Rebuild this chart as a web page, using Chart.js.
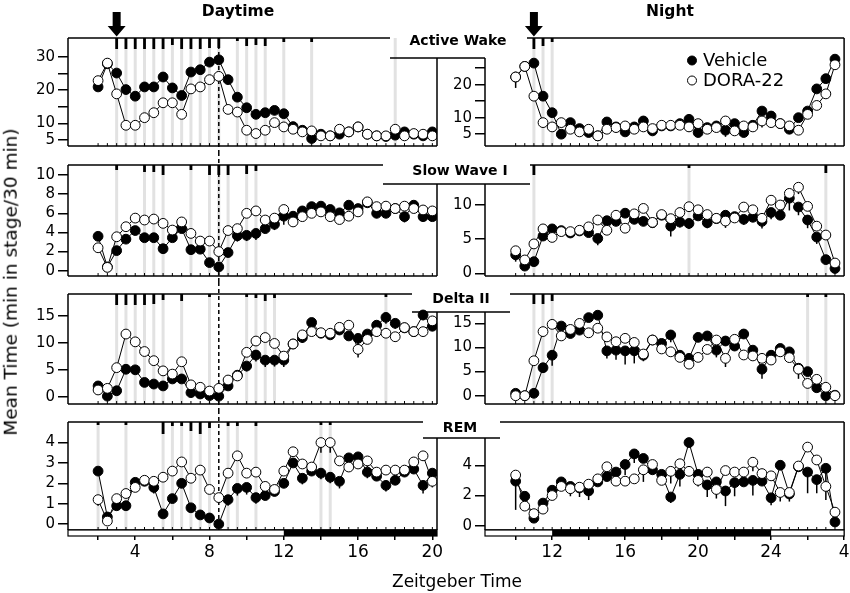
<!DOCTYPE html>
<html>
<head>
<meta charset="utf-8">
<script src="https://cdn.jsdelivr.net/npm/chart.js@4.4.0/dist/chart.umd.min.js"></script>
<style>
  body { margin: 0; background: #fff; }
  #wrap { position: relative; width: 850px; height: 593px; overflow: hidden; font-family: 'DejaVu Sans', sans-serif; color: #000; }
  #wrap canvas { position: absolute; }
  .txt { position: absolute; white-space: nowrap; line-height: 1; }
</style>
</head>
<body>
<div id="wrap"></div>
<script>
// time points (Zeitgeber Time, 30 min bins)
const dayZT = [2, 2.5, 3, 3.5, 4, 4.5, 5, 5.5, 6, 6.5, 7, 7.5, 8, 8.5, 9, 9.5, 10, 10.5, 11, 11.5,
  12, 12.5, 13, 13.5, 14, 14.5, 15, 15.5, 16, 16.5, 17, 17.5, 18, 18.5, 19, 19.5, 20];
const nightZT = [10, 10.5, 11, 11.5, 12, 12.5, 13, 13.5, 14, 14.5, 15, 15.5, 16, 16.5, 17, 17.5, 18, 18.5,
  19, 19.5, 20, 20.5, 21, 21.5, 22, 22.5, 23, 23.5, 24, 24.5, 25, 25.5, 26, 26.5, 27, 27.5];

// Active Wake
const awDayVeh = [21.0, 28.0, 25.2, 20.2, 18.2, 21.0, 21.0, 24.0, 20.7, 18.4, 25.5, 26.2, 28.5, 29.2, 23.2, 17.9, 14.7, 12.7, 13.2, 13.9,
  12.9, 9.0, 7.9, 5.4, 6.7, 6.2, 6.7, 7.4, 8.9, 6.7, 6.2, 6.0, 6.4, 7.4, 6.7, 6.2, 7.4];
const awDayDora = [22.9, 28.2, 18.9, 9.4, 9.4, 11.7, 13.2, 16.2, 16.2, 12.7, 20.4, 21.0, 23.2, 24.2, 14.2, 13.4, 7.9, 6.9, 7.9, 10.2,
  8.9, 8.2, 7.4, 7.7, 6.2, 6.2, 8.2, 7.4, 8.9, 6.7, 6.2, 6.2, 8.2, 6.2, 6.9, 6.7, 6.2];
const awNightVeh = [22.3, 25.5, 26.5, 16.5, 11.5, 5.0, 8.5, 6.7, 5.5, 4.5, 8.7, 7.2, 5.7, 7.2, 9.0, 6.0, 7.5, 7.5, 8.2, 9.5,
  5.5, 7.0, 7.5, 6.2, 8.2, 5.5, 7.7, 12.0, 10.5, 8.2, 6.5, 10.0, 12.0, 18.7, 21.8, 27.7];
const awNightDora = [22.3, 25.5, 16.5, 8.5, 7.2, 8.5, 6.5, 5.7, 6.5, 4.5, 6.5, 7.0, 7.5, 6.5, 7.2, 6.7, 7.7, 7.7, 7.7, 7.2,
  8.2, 6.5, 7.0, 9.0, 6.0, 7.5, 7.2, 9.0, 8.5, 8.2, 7.5, 6.2, 11.0, 13.7, 17.2, 26.0];

// Slow Wave I
const swDayVeh = [3.6, 0.4, 2.1, 3.3, 4.2, 3.45, 3.45, 2.3, 3.45, 4.4, 2.2, 2.25, 0.85, 0.4, 1.9, 3.65, 3.7, 3.9, 4.4, 4.85,
  5.7, 5.7, 6.25, 6.7, 6.75, 6.4, 6.05, 6.85, 6.5, 7.1, 6.0, 6.0, 6.5, 5.65, 6.85, 5.65, 5.65];
const swDayDora = [2.4, 0.35, 3.55, 4.6, 5.5, 5.3, 5.4, 4.95, 4.25, 5.1, 3.9, 3.1, 3.1, 2.0, 4.2, 4.4, 6.0, 6.25, 5.3, 5.5,
  6.4, 5.1, 5.65, 6.0, 6.15, 5.65, 5.35, 5.7, 6.15, 7.2, 6.7, 6.75, 6.5, 6.75, 6.5, 6.35, 6.25];
const swNightVeh = [2.7, 1.05, 1.7, 5.45, 6.5, 6.25, 5.9, 6.2, 5.95, 5.1, 7.7, 7.6, 8.8, 7.9, 7.6, 7.4, 8.5, 6.9, 7.5, 7.3,
  8.4, 7.4, 8.0, 8.5, 8.3, 7.9, 8.2, 7.6, 8.9, 8.5, 11.0, 9.7, 7.8, 5.3, 2.0, 0.7];
const swNightDora = [3.3, 1.95, 4.3, 6.5, 5.25, 6.1, 6.1, 6.3, 6.8, 7.8, 6.3, 8.5, 6.6, 8.7, 9.5, 7.45, 8.6, 8.0, 8.9, 9.75,
  9.3, 8.6, 8.05, 7.65, 8.1, 9.7, 9.3, 8.05, 10.7, 10.0, 11.7, 12.6, 9.8, 6.9, 5.6, 1.5];

// Delta II
const dlDayVeh = [2.0, 0.1, 1.1, 5.1, 5.0, 2.65, 2.35, 2.0, 3.3, 3.3, 0.75, 0.5, 0.2, 0.1, 2.0, 4.0, 5.7, 7.75, 6.8, 6.8,
  6.8, 9.8, 11.0, 13.8, 11.8, 11.5, 12.4, 11.3, 10.85, 11.65, 13.3, 14.75, 13.65, 12.8, 12.1, 15.2, 13.1];
const dlDayDora = [1.25, 1.55, 5.4, 11.65, 10.2, 8.4, 6.7, 4.8, 4.2, 6.5, 2.2, 1.75, 1.05, 1.55, 3.1, 3.85, 8.25, 10.35, 11.0, 9.9,
  7.55, 9.8, 11.5, 12.1, 11.9, 11.8, 12.9, 13.3, 8.8, 10.65, 12.1, 11.8, 11.15, 12.85, 12.1, 12.1, 14.1];
const dlNightVeh = [0.5, 0.0, 0.5, 5.8, 8.4, 14.45, 12.9, 13.6, 16.2, 16.7, 9.3, 9.45, 9.3, 9.3, 8.4, 11.55, 10.85, 12.6, 8.4, 7.75,
  12.1, 12.4, 9.45, 11.35, 10.3, 12.8, 9.45, 5.5, 8.4, 9.8, 9.1, 5.7, 5.0, 1.65, 0.0, 0.1];
const dlNightDora = [0.0, 0.0, 7.25, 13.3, 14.8, 12.4, 13.75, 15.0, 13.05, 14.0, 12.2, 11.2, 11.9, 11.05, 8.65, 11.55, 9.7, 9.1, 7.95, 6.55,
  7.95, 9.6, 11.55, 7.75, 11.7, 8.45, 8.25, 7.75, 7.4, 9.1, 7.9, 5.5, 2.55, 3.4, 1.75, 0.0];

// REM
const remDayVeh = [2.6, 0.35, 0.9, 0.9, 2.05, 2.1, 1.8, 0.5, 1.25, 2.0, 0.8, 0.45, 0.3, 0.0, 1.2, 1.75, 1.8, 1.3, 1.4, 1.6,
  2.0, 3.0, 2.25, 2.6, 2.5, 2.3, 2.1, 3.25, 3.3, 2.55, 2.35, 1.9, 2.15, 2.55, 2.7, 1.9, 2.5];
const remDayDora = [1.2, 0.15, 1.25, 1.5, 1.8, 2.15, 2.1, 2.3, 2.6, 3.05, 2.25, 2.65, 1.7, 1.3, 2.5, 3.35, 2.5, 2.55, 1.85, 1.7,
  2.6, 3.55, 2.95, 2.8, 4.0, 4.0, 3.1, 2.8, 2.95, 3.1, 2.55, 2.65, 2.65, 2.65, 3.05, 3.35, 2.1];
const remNightVeh = [2.95, 1.95, 0.5, 1.5, 2.35, 2.9, 2.6, 2.5, 2.3, 2.9, 3.25, 3.55, 4.05, 4.75, 4.45, 3.7, 3.4, 1.9, 3.4, 5.5,
  3.4, 2.7, 2.9, 2.3, 2.85, 2.9, 3.0, 2.95, 1.85, 4.0, 2.1, 3.9, 3.55, 3.05, 3.8, 0.25];
const remNightDora = [3.35, 1.3, 0.8, 1.1, 2.0, 2.6, 2.45, 2.55, 2.75, 3.1, 3.9, 2.95, 2.95, 3.1, 3.7, 4.05, 3.0, 3.6, 4.1, 3.6,
  3.0, 3.55, 2.4, 3.65, 3.55, 3.55, 4.2, 3.45, 3.3, 2.2, 2.2, 3.95, 5.2, 4.35, 2.6, 0.9];

// error bars (SEM, drawn downward): [bin index, length]
const awNightVehErr = [[14, 1.2], [23, 2.0], [26, 1.5]];
const awNightDoraErr = [[0, 3.3], [19, 1.5], [27, 2.0]];
const swDayVehErr = [[7, 0.5], [11, 0.4], [15, 0.6], [16, 0.6], [17, 0.7], [19, 0.6], [20, 0.9], [29, 0.4], [30, 0.5], [31, 0.5], [33, 0.6], [35, 0.5]];
const swDayDoraErr = [[19, 0.3], [22, 0.4]];
const swNightVehErr = [[0, 1.0], [9, 1.0], [10, 0.6], [12, 0.6], [17, 1.5], [18, 0.8], [19, 0.8], [21, 0.8], [25, 0.8], [28, 1.0], [30, 1.8], [31, 1.2], [32, 1.2], [33, 1.0]];
const swNightDoraErr = [[15, 0.8], [23, 1.0], [27, 1.5], [29, 0.8], [31, 1.0]];
const dlDayVehErr = [[16, 1.0], [17, 1.2], [18, 1.3], [19, 1.2], [20, 1.3], [22, 1.0], [28, 1.3], [30, 1.0], [31, 1.2], [32, 1.0], [35, 1.0]];
const dlDayDoraErr = [[22, 1.2], [24, 0.8], [28, 1.5], [30, 1.0], [32, 1.0]];
const dlNightVehErr = [[3, 1.0], [4, 2.2], [10, 1.6], [11, 2.0], [12, 2.8], [13, 2.6], [16, 1.2], [17, 1.5], [22, 1.5], [26, 1.5], [27, 2.0], [28, 1.2], [30, 1.2]];
const dlNightDoraErr = [[14, 1.5], [22, 0.8], [23, 1.8], [31, 2.0], [32, 1.0]];
const remDayVehErr = [[4, 0.3], [6, 0.3], [14, 0.3], [15, 0.35], [16, 0.35], [17, 0.3], [22, 0.3], [24, 0.3], [25, 0.3], [26, 0.35], [29, 0.3], [31, 0.3], [35, 0.4]];
const remDayDoraErr = [[0, 0.3], [24, 0.5], [25, 0.5], [29, 0.3], [36, 0.3]];
const remNightVehErr = [[0, 1.9], [1, 0.6], [7, 0.6], [8, 0.6], [12, 0.7], [13, 0.6], [17, 0.4], [18, 0.8], [20, 0.8], [21, 0.8], [22, 0.6], [23, 1.0], [24, 0.9], [26, 1.0], [28, 0.5], [32, 1.4], [33, 0.9], [34, 2.1]];
const remNightDoraErr = [[6, 0.5], [14, 0.8], [17, 0.8], [22, 0.6], [25, 0.6], [26, 0.6], [29, 0.6], [30, 0.6]];

// significant bins: [bin index, mark length]
const awDaySig = [[2, 11], [3, 11], [4, 11], [5, 11], [6, 11], [7, 11], [8, 7], [9, 11], [10, 11], [11, 11], [12, 10], [13, 10], [15, 3], [16, 8], [17, 7], [18, 8], [20, 4], [23, 4]];
const awNightSig = [[2, 11], [3, 8], [4, 4]];
const swDaySig = [[2, 5], [5, 7], [6, 7], [7, 10], [10, 5], [12, 10], [13, 10], [14, 10], [16, 9], [17, 6]];
const swNightSig = [[2, 10], [19, 3], [34, 8]];
const dlDaySig = [[2, 11], [3, 11], [4, 11], [5, 11], [6, 10], [7, 6], [9, 7], [12, 3], [16, 3], [17, 4], [18, 7], [19, 4], [31, 3]];
const dlNightSig = [[2, 10], [3, 10], [4, 7], [32, 3], [34, 3]];
const remDaySig = [[0, 3], [3, 3], [7, 12], [8, 4], [9, 4], [10, 9], [11, 12], [12, 6], [14, 4], [15, 4], [17, 4], [24, 3], [25, 3]];
const remNightSig = [];
const awDayGreyOnly = [32];

// axis ticks
const awDayTicks = [5, 10, 15, 20, 25, 30], awDayLabels = [5, 10, 20, 30];
const awNightTicks = [5, 10, 15, 20, 25], awNightLabels = [5, 10, 20];
const swDayTicks = [0, 2, 4, 6, 8, 10];
const swNightTicks = [0, 5, 10];
const dlTicks = [0, 5, 10, 15];
const remDayTicks = [0, 1, 2, 3, 4];
const remNightTicks = [0, 2, 4];
const dayXTicks = [2, 4, 6, 8, 10, 12, 14, 16, 18, 20];
const dayXLabels = { 4: '4', 8: '8', 12: '12', 16: '16', 20: '20' };
const nightXTicks = [10, 12, 14, 16, 18, 20, 22, 24, 26, 28];
const nightXLabels = { 12: '12', 16: '16', 20: '20', 24: '24', 28: '4' };

const doseDay = 3, doseNight = 11;   // arrows
const dashZT = 8.5;                  // dashed line
const darkDay = [[12, 20.25]], darkNight = [[12, 24]];

// page geometry
const COLS = {
  L: { left: 0, width: 447, xMin: 0.38, xMax: 20.25, yWidth: 68, padRight: 10 },
  R: { left: 447, width: 403, xMin: 8.32, xMax: 28, yWidth: 38, padRight: 5 }
};
const ROWS = [
  { top: 0, height: 152, areaTop: 38, areaBottom: 147, notchY: 58, leftTopEnd: 390, rightTopStart: 527, notchEnd: 485 },
  { top: 152, height: 130, areaTop: 165, areaBottom: 276, notchY: 184, leftTopEnd: 383, rightTopStart: 530, notchEnd: 530 },
  { top: 282, height: 128, areaTop: 294, areaBottom: 404, notchY: 312, leftTopEnd: 412, rightTopStart: 510, notchEnd: 510 },
  { top: 410, height: 183, areaTop: 422, areaBottom: 530, notchY: 438, leftTopEnd: 423, rightTopStart: 500, notchEnd: 500 }
];

const panels = [
  { side: 'L', row: 0, zt: dayZT, veh: awDayVeh, dora: awDayDora, vehErr: [], doraErr: [], sig: awDaySig, grey: awDayGreyOnly, yMin: 3.1, yMax: 35.8, yTicks: awDayTicks, yLabels: awDayLabels, dose: doseDay },
  { side: 'R', row: 0, zt: nightZT, veh: awNightVeh, dora: awNightDora, vehErr: awNightVehErr, doraErr: awNightDoraErr, sig: awNightSig, yMin: 1.4, yMax: 34.1, yTicks: awNightTicks, yLabels: awNightLabels, dose: doseNight, legend: true },
  { side: 'L', row: 1, zt: dayZT, veh: swDayVeh, dora: swDayDora, vehErr: swDayVehErr, doraErr: swDayDoraErr, sig: swDaySig, yMin: -0.55, yMax: 11.05, yTicks: swDayTicks, yLabels: swDayTicks },
  { side: 'R', row: 1, zt: nightZT, veh: swNightVeh, dora: swNightDora, vehErr: swNightVehErr, doraErr: swNightDoraErr, sig: swNightSig, yMin: -0.4, yMax: 15.86, yTicks: swNightTicks, yLabels: swNightTicks },
  { side: 'L', row: 2, zt: dayZT, veh: dlDayVeh, dora: dlDayDora, vehErr: dlDayVehErr, doraErr: dlDayDoraErr, sig: dlDaySig, yMin: -1.36, yMax: 19.1, yTicks: dlTicks, yLabels: dlTicks },
  { side: 'R', row: 2, zt: nightZT, veh: dlNightVeh, dora: dlNightDora, vehErr: dlNightVehErr, doraErr: dlNightDoraErr, sig: dlNightSig, yMin: -1.72, yMax: 21.1, yTicks: dlTicks, yLabels: dlTicks },
  { side: 'L', row: 3, zt: dayZT, veh: remDayVeh, dora: remDayDora, vehErr: remDayVehErr, doraErr: remDayDoraErr, sig: remDaySig, yMin: -0.29, yMax: 5.01, yTicks: remDayTicks, yLabels: remDayTicks, xTicks: dayXTicks, xLabels: dayXLabels, dark: darkDay },
  { side: 'R', row: 3, zt: nightZT, veh: remNightVeh, dora: remNightDora, vehErr: remNightVehErr, doraErr: remNightDoraErr, sig: remNightSig, yMin: -0.28, yMax: 6.86, yTicks: remNightTicks, yLabels: remNightTicks, xTicks: nightXTicks, xLabels: nightXLabels, dark: darkNight }
];

const FONT = 'DejaVu Sans';
const wrap = document.getElementById('wrap');

function seg(ctx, x1, y1, x2, y2) {
  ctx.beginPath(); ctx.moveTo(x1, y1); ctx.lineTo(x2, y2); ctx.stroke();
}

//draws everything the figure has around the curves: frames, shading, marks, error bars
function decoPlugin(p) {
  const col = COLS[p.side], row = ROWS[p.row];
  const X = v => v - col.left, Y = v => v - row.top;
  return {
    id: 'deco',
    beforeDatasetsDraw(chart) {
      const ctx = chart.ctx, a = chart.chartArea, xs = chart.scales.x, ys = chart.scales.y;
      ctx.save();
      ctx.strokeStyle = '#e2e2e2'; ctx.lineWidth = 3;
      p.sig.map(s => s[0]).concat(p.grey || []).forEach(i => {
        const px = xs.getPixelForValue(p.zt[i]);
        seg(ctx, px, a.top, px, a.bottom);
      });
      if (p.side === 'L') {
        const px = xs.getPixelForValue(dashZT);
        ctx.strokeStyle = '#000'; ctx.lineWidth = 1.5; ctx.setLineDash([4, 3]);
        seg(ctx, px, p.row === 0 ? a.top : 0, px, p.row === 3 ? a.bottom : chart.height);
        ctx.setLineDash([]);
      }
      ctx.strokeStyle = '#000'; ctx.lineWidth = 1.5;
      [[p.veh, p.vehErr], [p.dora, p.doraErr]].forEach(([vals, errs]) => errs.forEach(([i, e]) => {
        const px = xs.getPixelForValue(p.zt[i]);
        seg(ctx, px, ys.getPixelForValue(vals[i]), px, ys.getPixelForValue(vals[i] - e));
      }));
      ctx.restore();
    },
    afterDraw(chart) {
      const ctx = chart.ctx, a = chart.chartArea, xs = chart.scales.x;
      ctx.save();
      ctx.strokeStyle = '#000'; ctx.fillStyle = '#000'; ctx.lineWidth = 1.5;
      //frame with the notch for the stage name
      if (p.side === 'L') {
        seg(ctx, a.left, a.top, a.left, a.bottom);
        seg(ctx, a.left, a.top, X(row.leftTopEnd), a.top);
        seg(ctx, X(row.leftTopEnd), Y(row.notchY), chart.width, Y(row.notchY));
        seg(ctx, a.right, Y(row.notchY), a.right, a.bottom);
      } else {
        seg(ctx, 0, Y(row.notchY), X(row.notchEnd), Y(row.notchY));
        seg(ctx, a.left, Y(row.notchY), a.left, a.bottom);
        seg(ctx, X(row.rightTopStart), a.top, a.right, a.top);
        seg(ctx, a.right, a.top, a.right, a.bottom);
      }
      seg(ctx, a.left, a.bottom, a.right, a.bottom);
      ctx.lineWidth = 1;
      p.zt.forEach(t => {
        const px = xs.getPixelForValue(t);
        seg(ctx, px, a.bottom, px, a.bottom - 3);
      });
      p.sig.forEach(([i, len]) => {
        const px = xs.getPixelForValue(p.zt[i]);
        ctx.fillRect(px - 1.4, a.top, 2.8, len);
      });
      //light / dark bar under the bottom row
      if (p.dark) {
        const h = 6;
        ctx.fillStyle = '#fff'; ctx.fillRect(a.left, a.bottom, a.right - a.left, h);
        ctx.fillStyle = '#000';
        p.dark.forEach(([s, e]) => {
          const x1 = xs.getPixelForValue(s), x2 = xs.getPixelForValue(e);
          ctx.fillRect(x1, a.bottom, x2 - x1, h);
        });
        ctx.lineWidth = 1.2; ctx.strokeRect(a.left, a.bottom, a.right - a.left, h);
      }
      //dosing arrow
      if (p.dose !== undefined) {
        const px = xs.getPixelForValue(p.dose);
        ctx.fillStyle = '#000';
        ctx.beginPath();
        ctx.moveTo(px - 4, 12); ctx.lineTo(px + 4, 12); ctx.lineTo(px + 4, 26); ctx.lineTo(px + 9, 26);
        ctx.lineTo(px, 36.5); ctx.lineTo(px - 9, 26); ctx.lineTo(px - 4, 26); ctx.closePath();
        ctx.fill();
      }
      if (p.legend) {
        const items = [chart.data.datasets[1], chart.data.datasets[0]];
        ctx.font = '18px "' + FONT + '"'; ctx.textBaseline = 'alphabetic';
        items.forEach((ds, k) => {
          const cy = [60.5, 80.5][k];
          ctx.beginPath(); ctx.arc(X(692), cy, 4.5, 0, Math.PI * 2);
          ctx.fillStyle = ds.pointBackgroundColor; ctx.fill();
          ctx.lineWidth = 1; ctx.strokeStyle = '#000'; ctx.stroke();
          ctx.fillStyle = '#000';
          ctx.fillText(ds.label, X(703), [65.5, 86][k]);
        });
      }
      ctx.restore();
    }
  };
}

function makePanel(p) {
  const col = COLS[p.side], row = ROWS[p.row];
  const cv = document.createElement('canvas');
  cv.width = col.width; cv.height = row.height;
  cv.style.left = col.left + 'px'; cv.style.top = row.top + 'px';
  cv.style.width = col.width + 'px'; cv.style.height = row.height + 'px';
  wrap.appendChild(cv);
  const showX = !!p.xTicks;
  const line = { borderColor: '#000', borderWidth: 1, pointRadius: 4.9, pointBorderColor: '#000', pointBorderWidth: 1, tension: 0, fill: false };
  new Chart(cv, {
    type: 'line',
    data: {
      datasets: [
        Object.assign({ label: 'DORA-22', order: 1, pointBackgroundColor: '#fff', data: p.zt.map((t, i) => ({ x: t, y: p.dora[i] })) }, line),
        Object.assign({ label: 'Vehicle', order: 2, pointBackgroundColor: '#000', data: p.zt.map((t, i) => ({ x: t, y: p.veh[i] })) }, line)
      ]
    },
    options: {
      responsive: false,
      animation: false,
      events: [],
      layout: { padding: { top: row.areaTop - row.top, bottom: showX ? 0 : row.top + row.height - row.areaBottom, left: 0, right: col.padRight } },
      plugins: { legend: { display: false }, tooltip: { enabled: false } },
      scales: {
        x: {
          type: 'linear', min: col.xMin, max: col.xMax, display: showX,
          afterBuildTicks: s => { if (showX) s.ticks = p.xTicks.map(v => ({ value: v })); },
          afterFit: s => { if (showX) { s.height = row.top + row.height - row.areaBottom; s.paddingLeft = 0; s.paddingRight = 0; } },
          grid: { display: true, drawOnChartArea: false, drawTicks: true, tickLength: 10, color: '#000', lineWidth: 1.5 },
          border: { display: false },
          ticks: { autoSkip: false, maxRotation: 0, padding: 2, color: '#000', font: { family: FONT, size: 17 },
            callback: v => (p.xLabels && p.xLabels[v]) || '' }
        },
        y: {
          type: 'linear', min: p.yMin, max: p.yMax,
          afterBuildTicks: s => { s.ticks = p.yTicks.map(v => ({ value: v })); },
          afterFit: s => { s.width = col.yWidth; s.paddingTop = 0; s.paddingBottom = 0; },
          grid: { display: true, drawOnChartArea: false, drawTicks: true, tickLength: 10, color: '#000', lineWidth: 1.5 },
          border: { display: false },
          ticks: { autoSkip: false, padding: 3, color: '#000', font: { family: FONT, size: 15 },
            callback: v => p.yLabels.indexOf(v) >= 0 ? String(v) : '' }
        }
      }
    },
    plugins: [decoPlugin(p)]
  });
}

panels.forEach(makePanel);

//text labels
function label(text, cx, baseline, size, bold) {
  const d = document.createElement('div');
  d.className = 'txt';
  d.textContent = text;
  d.style.fontSize = size + 'px';
  d.style.fontWeight = bold ? 'bold' : 'normal';
  d.style.left = cx + 'px';
  d.style.top = (baseline - 0.846 * size) + 'px';
  d.style.transform = 'translateX(-50%)';
  wrap.appendChild(d);
  return d;
}
label('Daytime', 238, 17, 15.5, true);
label('Night', 670, 17, 15.5, true);
label('Active Wake', 458, 45, 14, true);
label('Slow Wave I', 460, 175, 14, true);
label('Delta II', 461, 303, 14, true);
label('REM', 460, 432, 14, true);
label('Zeitgeber Time', 457, 587, 17, false);
const yt = label('Mean Time (min in stage/30 min)', 10.5, 0, 18.5, false);
yt.style.top = '282px';
yt.style.transform = 'translate(-50%, -50%) rotate(-90deg)';
</script>
</body>
</html>
